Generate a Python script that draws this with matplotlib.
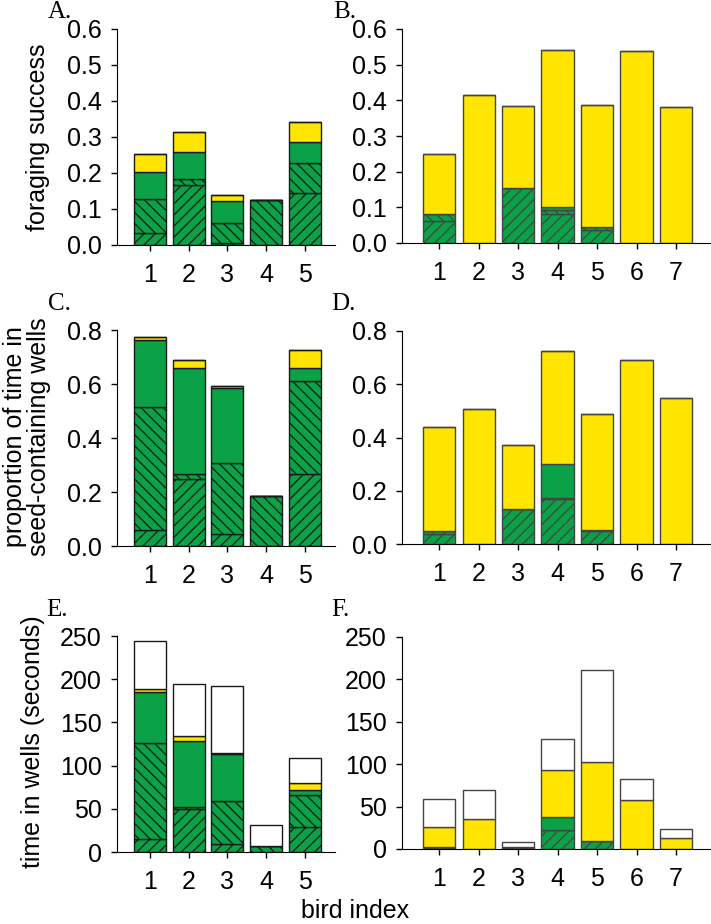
import matplotlib
matplotlib.use("Agg")
import matplotlib.pyplot as plt
import numpy as np

plt.rcParams['font.family'] = ['Liberation Sans', 'DejaVu Sans']
plt.rcParams['hatch.linewidth'] = 0.9

GREEN = "#0aa147"
YELLOW = "#ffe500"

# segment heights, bottom to top: hatched "/", hatched "\", solid green, yellow, white
a_s1 = [0.032, 0.167, 0.006, 0.0, 0.144]
a_s2 = [0.095, 0.017, 0.055, 0.125, 0.085]
a_s3 = [0.077, 0.073, 0.060, 0.0, 0.056]
a_s4 = [0.050, 0.058, 0.018, 0.0, 0.058]
a_s5 = [0, 0, 0, 0, 0]

b_s1 = [0.062, 0.0, 0.153, 0.082, 0.037, 0.0, 0.0]
b_s2 = [0.020, 0.0, 0.0, 0.010, 0.008, 0.0, 0.0]
b_s3 = [0.0, 0.0, 0.0, 0.010, 0.0, 0.0, 0.0]
b_s4 = [0.167, 0.414, 0.231, 0.440, 0.343, 0.539, 0.380]
b_s5 = [0, 0, 0, 0, 0, 0, 0]

c_s1 = [0.058, 0.250, 0.043, 0.0, 0.268]
c_s2 = [0.455, 0.018, 0.264, 0.184, 0.342]
c_s3 = [0.249, 0.391, 0.280, 0.0, 0.048]
c_s4 = [0.013, 0.031, 0.006, 0.0, 0.068]
c_s5 = [0, 0, 0, 0, 0]

d_s1 = [0.036, 0.0, 0.130, 0.170, 0.050, 0.0, 0.0]
d_s2 = [0.013, 0.0, 0.0, 0.002, 0.003, 0.0, 0.0]
d_s3 = [0.0, 0.0, 0.0, 0.128, 0.0, 0.0, 0.0]
d_s4 = [0.389, 0.506, 0.240, 0.425, 0.437, 0.690, 0.550]
d_s5 = [0, 0, 0, 0, 0, 0, 0]

e_s1 = [14.7, 49.4, 8.9, 0.0, 29.3]
e_s2 = [111.1, 3.1, 50.5, 6.6, 37.1]
e_s3 = [59.4, 75.5, 54.0, 0.0, 5.4]
e_s4 = [3.8, 6.6, 1.2, 0.0, 7.7]
e_s5 = [55.2, 60.2, 77.5, 25.0, 29.7]

f_s1 = [1.5, 0.0, 1.0, 21.9, 9.8, 0.0, 0.0]
f_s2 = [0.9, 0.0, 0.0, 0.0, 0.0, 0.0, 0.0]
f_s3 = [0.0, 0.0, 0.0, 16.1, 0.0, 0.0, 0.0]
f_s4 = [23.1, 35.3, 1.5, 55.7, 92.5, 57.6, 12.9]
f_s5 = [32.9, 34.8, 5.3, 35.6, 108.9, 25.5, 10.6]

W, H = 711, 924
fig = plt.figure(figsize=(W / 100, H / 100), dpi=100)


def make_ax(l, r, t, b):
    return fig.add_axes([l / W, 1 - b / H, (r - l) / W, (b - t) / H])


def panel(ax, segs, ymax, ystep, fmt, xlim, edge):
    n = len(segs[0])
    x = np.arange(1, n + 1)
    bottom = np.zeros(n)
    styles = [(GREEN, "///"), (GREEN, "\\\\\\"), (GREEN, None), (YELLOW, None), ("white", None)]
    for s, (col, hat) in zip(segs, styles):
        s = np.array(s, dtype=float)
        ax.bar(x, s, bottom=bottom, width=0.82, color=col, hatch=hat,
               edgecolor=edge, linewidth=1.0)
        bottom += s
    ax.set_xlim(*xlim)
    ax.set_ylim(0, ymax)
    ax.set_xticks(x)
    yt = np.arange(0, ymax + ystep / 2, ystep)
    ax.set_yticks(yt)
    ax.set_yticklabels([fmt.format(v) for v in yt])
    for sp in ["top", "right"]:
        ax.spines[sp].set_visible(False)
    ax.tick_params(axis="both", labelsize=18, length=4, width=1, direction="out")
    ax.tick_params(axis="x", pad=9)
    ax.tick_params(axis="y", pad=7)


axA = make_ax(117, 335, 29, 245)
axB = make_ax(402, 710, 29, 243)
axC = make_ax(117, 335, 330, 546)
axD = make_ax(402, 710, 331, 544)
axE = make_ax(117, 335, 636, 852)
axF = make_ax(402, 710, 637, 849)

panel(axA, [a_s1, a_s2, a_s3, a_s4, a_s5], 0.6, 0.1, "{:.1f}", (0.15, 5.78), "#1a1a1a")
panel(axB, [b_s1, b_s2, b_s3, b_s4, b_s5], 0.6, 0.1, "{:.1f}", (0.055, 7.86), "#444444")
panel(axC, [c_s1, c_s2, c_s3, c_s4, c_s5], 0.8, 0.2, "{:.1f}", (0.15, 5.78), "#1a1a1a")
panel(axD, [d_s1, d_s2, d_s3, d_s4, d_s5], 0.8, 0.2, "{:.1f}", (0.055, 7.86), "#444444")
panel(axE, [e_s1, e_s2, e_s3, e_s4, e_s5], 250, 50, "{:.0f}", (0.15, 5.78), "#1a1a1a")
panel(axF, [f_s1, f_s2, f_s3, f_s4, f_s5], 250, 50, "{:.0f}", (0.055, 7.86), "#444444")

for lab, px, py in [("A.", 48, 12), ("B.", 333, 12), ("C.", 48, 304),
                    ("D.", 331, 304), ("E.", 46, 610), ("F.", 331, 610)]:
    fig.text(px / W, 1 - py / H, lab, fontsize=18, family="Liberation Serif",
             ha="left", va="center")

fig.text(38 / W, 1 - 137 / H, "foraging success", fontsize=18, rotation=90,
         ha="center", va="center")
fig.text(27 / W, 1 - 437 / H, "proportion of time in\nseed-containing wells", fontsize=18,
         rotation=90, ha="center", va="center", linespacing=1.0)
fig.text(33 / W, 1 - 742 / H, "time in wells (seconds)", fontsize=18, rotation=90,
         ha="center", va="center")
fig.text(355 / W, 1 - 911 / H, "bird index", fontsize=18, ha="center", va="center")

fig.savefig("out.png", dpi=100)
